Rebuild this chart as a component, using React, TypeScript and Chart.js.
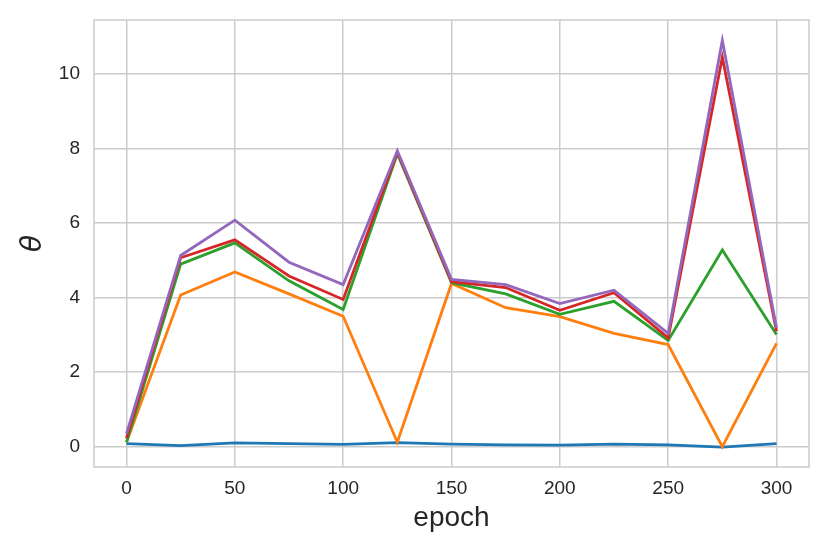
import React, { useEffect, useRef } from "react";
import { Chart, registerables } from "chart.js";

Chart.register(...registerables);

const epochs = [0, 25, 50, 75, 100, 125, 150, 175, 200, 225, 250, 275, 300];
const seriesBlue = [0.08, 0.03, 0.1, 0.08, 0.06, 0.11, 0.07, 0.05, 0.04, 0.07, 0.05, -0.01, 0.08];
const seriesOrange = [0.12, 4.07, 4.69, 4.1, 3.5, 0.12, 4.38, 3.73, 3.49, 3.04, 2.74, 0.0, 2.77];
const seriesGreen = [0.12, 4.9, 5.47, 4.45, 3.68, 7.86, 4.4, 4.1, 3.55, 3.9, 2.85, 5.28, 3.01];
const seriesRed = [0.23, 5.07, 5.55, 4.58, 3.95, 7.9, 4.43, 4.27, 3.66, 4.13, 2.92, 10.45, 3.1];
const seriesPurple = [0.35, 5.13, 6.08, 4.95, 4.35, 7.94, 4.49, 4.35, 3.84, 4.2, 3.04, 10.9, 3.19];
const xTickValues = [0, 50, 100, 150, 200, 250, 300];
const yTickValues = [0, 2, 4, 6, 8, 10];

const FONT = "'Liberation Sans', Arial, sans-serif";
const GRID = "#cccccc";
const TEXT = "#262626";

const borderPlugin = {
  id: "frameBorder",
  afterDraw(chart: any) {
    const { ctx, chartArea } = chart;
    ctx.save();
    ctx.strokeStyle = GRID;
    ctx.lineWidth = 1.5;
    ctx.strokeRect(chartArea.left, chartArea.top, chartArea.right - chartArea.left, chartArea.bottom - chartArea.top);
    ctx.restore();
  },
};

export default function App() {
  const ref = useRef<HTMLCanvasElement>(null);
  useEffect(() => {
    if (!ref.current) return;
    const mk = (data: number[], color: string, order: number) => ({
      data: epochs.map((x, i) => ({ x, y: data[i] })),
      borderColor: color,
      backgroundColor: color,
      borderWidth: 2.8,
      pointRadius: 0,
      tension: 0,
      order,
    });
    const chart = new Chart(ref.current, {
      type: "line",
      data: {
        datasets: [
          mk(seriesBlue, "#1f77b4", 4),
          mk(seriesOrange, "#ff7f0e", 3),
          mk(seriesGreen, "#2ca02c", 2),
          mk(seriesRed, "#d62728", 1),
          mk(seriesPurple, "#9467bd", 0),
        ],
      },
      options: {
        animation: false,
        responsive: false,
        layout: { padding: { left: 0, right: 21, top: 20, bottom: 0 } },
        plugins: { legend: { display: false }, tooltip: { enabled: false } },
        scales: {
          x: {
            type: "linear",
            min: -15,
            max: 315,
            afterBuildTicks: (s: any) => {
              s.ticks = xTickValues.map((v) => ({ value: v }));
            },
            afterFit: (s: any) => {
              s.height = 87;
              s.paddingLeft = 0;
              s.paddingRight = 0;
            },
            grid: { color: GRID, lineWidth: 1.5, drawTicks: false },
            border: { display: false },
            ticks: { color: TEXT, font: { family: FONT, size: 19 }, padding: 10, maxRotation: 0 },
            title: {
              display: true,
              text: "epoch",
              color: TEXT,
              font: { family: FONT, size: 28, lineHeight: 1 },
              padding: { top: 22, bottom: 22 },
            },
          },
          y: {
            type: "linear",
            min: -0.545,
            max: 11.45,
            afterBuildTicks: (s: any) => {
              s.ticks = yTickValues.map((v) => ({ value: v }));
            },
            afterFit: (s: any) => {
              s.width = 94;
              s.paddingTop = 0;
              s.paddingBottom = 0;
            },
            grid: { color: GRID, lineWidth: 1.5, drawTicks: false },
            border: { display: false },
            ticks: { color: TEXT, font: { family: FONT, size: 19 }, padding: 14 },
            title: {
              display: true,
              text: "θ",
              color: TEXT,
              font: { family: "'DejaVu Sans', sans-serif", size: 28, style: "oblique", lineHeight: 1 },
              padding: { top: 20, bottom: 20 },
            },
          },
        },
      },
      plugins: [borderPlugin],
    });
    return () => chart.destroy();
  }, []);
  return (
    <div style={{ position: "fixed", left: 0, top: 0, width: 830, height: 554, background: "#fff" }}>
      <canvas ref={ref} width={830} height={554} style={{ display: "block" }} />
    </div>
  );
}
